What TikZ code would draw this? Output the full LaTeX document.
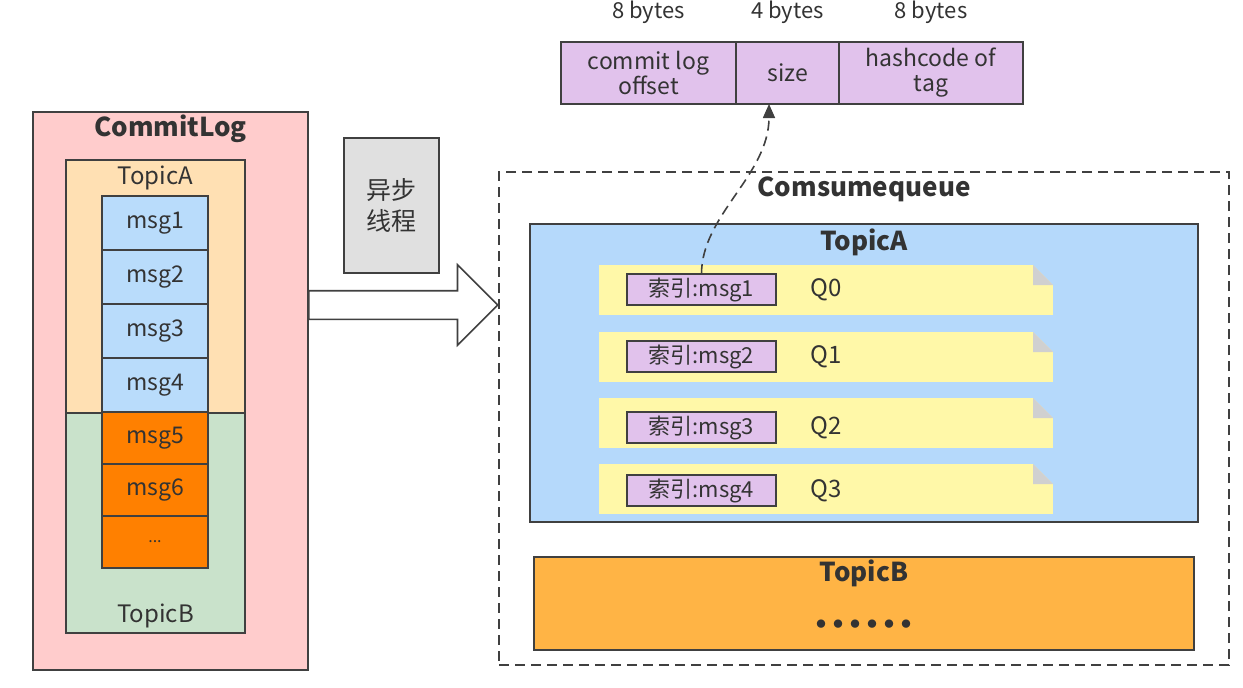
\documentclass[tikz,border=0pt]{standalone}
\usepackage{fontspec}
\setmainfont{Noto Sans CJK SC}
\usepackage{xcolor}
\usepackage{tikz}
\usetikzlibrary{shapes.arrows, arrows.meta, positioning}
\definecolor{ink}{HTML}{333333}
\definecolor{edge}{HTML}{404040}
\definecolor{logpink}{HTML}{FFCCCC}
\definecolor{peach}{HTML}{FFE0B3}
\definecolor{mint}{HTML}{C9E2CB}
\definecolor{msgblue}{HTML}{B9DCFB}
\definecolor{msgorange}{HTML}{FF8000}
\definecolor{threadgrey}{HTML}{E0E0E0}
\definecolor{queueblue}{HTML}{B5D9FB}
\definecolor{noteyellow}{HTML}{FFF8A8}
\definecolor{foldgrey}{HTML}{D0D0D0}
\definecolor{idxpurple}{HTML}{E1C2EC}
\definecolor{amber}{HTML}{FFB445}
\tikzstyle{box} = [rectangle, draw=edge, line width=1.6pt, outer sep=0pt, inner sep=0pt, text=ink]
\tikzstyle{msg} = [box, fill=msgblue, minimum width=106, minimum height=54, font=\fontsize{23}{26}\selectfont]
\tikzstyle{newmsg} = [msg, fill=msgorange, minimum height=52]
\tikzstyle{note} = [rectangle, fill=noteyellow, minimum width=454, minimum height=50, outer sep=0pt]
\tikzstyle{index} = [box, fill=idxpurple, minimum width=149, minimum height=31, font=\fontsize{22}{24}\selectfont]
\tikzstyle{field} = [box, fill=idxpurple, minimum height=62, align=center, font=\fontsize{23}{25}\selectfont]
\tikzstyle{title} = [text=ink, font=\bfseries\fontsize{26}{30}\selectfont]
\tikzstyle{label} = [text=ink, font=\fontsize{24}{27}\selectfont]
\tikzstyle{link} = [edge, line width=1.6pt, dash pattern=on 10pt off 6pt, -{Triangle[length=14pt, width=12pt]}]
\newcommand{\dotrow}{•\kern-13pt•\kern-13pt•\kern-13pt•\kern-13pt•\kern-13pt•}

\begin{document}
\begin{tikzpicture}[x=1pt, y=-1pt, node distance=0pt]

\path[fill=white, use as bounding box] (0,0) rectangle (1243,688);

\node (log) [box, fill=logpink, minimum width=275, minimum height=558] at (170.5,391) {};
\node (ta) [box, fill=peach, minimum width=179, minimum height=253] at (155.5,286.5) {};
\node (tb) [box, fill=mint, minimum width=179, minimum height=220] at (155.5,523) {};
\node [title] at (170.5,129) {CommitLog};
\node [label] at (155.5,178) {TopicA};
\node [label] at (155.5,616) {TopicB};

\node (m1) [msg] at (155,223) {msg1};
\node (m2) [msg, below=of m1] {msg2};
\node (m3) [msg, below=of m2] {msg3};
\node (m4) [msg, below=of m3] {msg4};
\node (m5) [newmsg, below=of m4] {msg5};
\node (m6) [newmsg, below=of m5] {msg6};
\node (m7) [newmsg, below=of m6, font=\fontsize{16}{18}\selectfont] {...};

\node (thread) [box, fill=threadgrey, minimum width=95, minimum height=135, align=center, font=\fontsize{25}{31}\selectfont] at (391.5,205.5) {异步\\线程};

\node (cq) [box, dash pattern=on 10pt off 6pt, minimum width=730, minimum height=493] at (864,418.5) {};
\node [title] at (864,189) {Comsumequeue};

\node (pipe) [single arrow, draw=edge, fill=white, line width=1.6pt, anchor=west, minimum height=189, minimum width=0pt, inner xsep=0pt, inner ysep=13.5pt, single arrow head extend=26pt, single arrow tip angle=90] at (log.east |- 0,305) {};

\node (qa) [box, fill=queueblue, minimum width=668, minimum height=298] at (864,373) {};
\node [title] at (864,242) {TopicA};

\foreach \k/\ny/\iy in {0/290/289.5, 1/357/356.5, 2/423/427.5, 3/489/490.5} {
  \node (q\k) [note] at (826,\ny) {};
  \fill[queueblue] ([xshift=-20]q\k.north east) -- (q\k.north east) -- ([yshift=-20]q\k.north east) -- cycle;
  \fill[foldgrey] ([xshift=-20]q\k.north east) -- ([xshift=-20, yshift=-20]q\k.north east) -- ([yshift=-20]q\k.north east) -- cycle;
  \node (i\k) [index] at (701.5,\iy) {索引:msg\the\numexpr\k+1\relax};
  \node [label] at (826,\iy) {Q\k};
}

\node (qb) [box, fill=amber, minimum width=660, minimum height=93] at (864,603.5) {};
\node [title] at (864,573) {TopicB};
\node [title, font=\bfseries\fontsize{30}{30}\selectfont] at (864,628) {\dotrow};

\node (off) [field, minimum width=175] at (648.5,73) {commit log\\offset};
\node (size) [field, minimum width=103, right=of off] {size};
\node (hash) [field, minimum width=184, right=of size] {hashcode of\\tag};
\node [label, font=\fontsize{22}{24}\selectfont, above=15pt of off] {8 bytes};
\node [label, font=\fontsize{22}{24}\selectfont, above=15pt of size] {4 bytes};
\node [label, font=\fontsize{22}{24}\selectfont, above=15pt of hash] {8 bytes};

\draw[link] (i0.north) .. controls (701.5,215) and ([xshift=-18.5]size.south |- 0,175) .. ([xshift=-18.5]size.south);

\end{tikzpicture}
\end{document}
